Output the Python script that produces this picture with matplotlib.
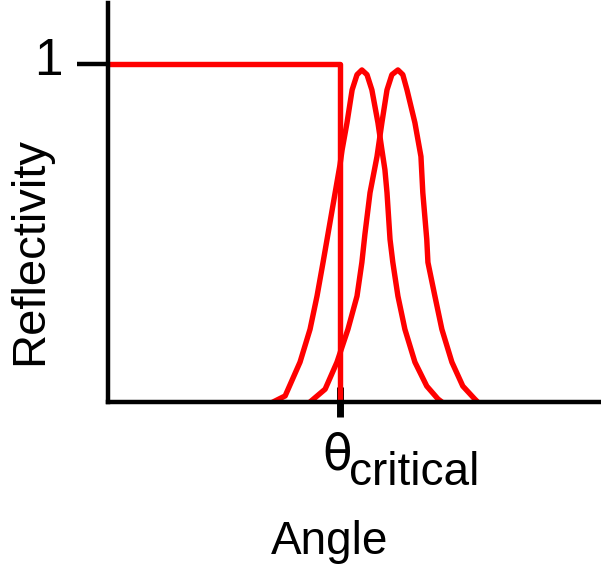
import matplotlib
matplotlib.use('Agg')
import matplotlib.pyplot as plt

plt.rcParams['font.family'] = ['Liberation Sans', 'DejaVu Sans']

# step reflectivity (total reflection up to the critical angle)
step_x = [0.0, 1.0, 1.0]
step_y = [1.0, 1.0, 0.0]

# first peak
peak1_x = [0.712, 0.764, 0.828, 0.871, 0.901, 0.927, 0.948, 0.979, 1.000, 1.009,
           1.030, 1.052, 1.073, 1.094, 1.116, 1.137, 1.163, 1.180, 1.193, 1.202,
           1.215, 1.227, 1.249, 1.279, 1.322, 1.373, 1.421, 1.438]
peak1_y = [0.0, 0.018, 0.118, 0.215, 0.313, 0.413, 0.496, 0.619, 0.702, 0.746,
           0.826, 0.923, 0.968, 0.982, 0.968, 0.923, 0.826, 0.746, 0.687, 0.619,
           0.481, 0.413, 0.313, 0.215, 0.118, 0.047, 0.009, 0.0]

# second peak
peak2_x = [0.871, 0.936, 0.987, 1.034, 1.073, 1.094, 1.107, 1.129, 1.159, 1.180,
           1.202, 1.223, 1.249, 1.270, 1.288, 1.322, 1.348, 1.356, 1.373, 1.378,
           1.408, 1.438, 1.481, 1.528, 1.579, 1.592]
peak2_y = [0.0, 0.038, 0.118, 0.215, 0.313, 0.413, 0.496, 0.619, 0.726, 0.826,
           0.923, 0.968, 0.982, 0.968, 0.923, 0.826, 0.726, 0.619, 0.481, 0.413,
           0.313, 0.215, 0.118, 0.047, 0.009, 0.0]

theta_c = 1.0

W, H = 601, 564
fig = plt.figure(figsize=(W / 100, H / 100), dpi=100)
ax = fig.add_axes([107.5 / W, (H - 402) / H, (600 - 107.5) / W, (402 - 3) / H])

red = '#ff0000'
for xs, ys in [(step_x, step_y), (peak1_x, peak1_y), (peak2_x, peak2_y)]:
    ax.plot(xs, ys, color=red, lw=3.9, solid_joinstyle='round')

ax.set_xlim(0, 2.118)
ax.set_ylim(0, 1.18)

for s in ['top', 'right']:
    ax.spines[s].set_visible(False)
for s in ['left', 'bottom']:
    ax.spines[s].set_linewidth(3.2)

ax.set_yticks([1])
ax.set_xticks([theta_c])
ax.tick_params(axis='y', direction='out', length=22, width=3.2, labelleft=False)
ax.tick_params(axis='x', direction='inout', length=21, width=5, labelbottom=False)

# labels placed in figure pixels
def ftext(px, py, s, **kw):
    fig.text(px / W, 1 - py / H, s, **kw)

ftext(63, 75, '1', fontsize=37, ha='right', va='baseline')
ftext(322, 470, '\u03b8', fontsize=35, ha='left', va='baseline', family='DejaVu Sans')
ftext(349, 485, 'critical', fontsize=33, ha='left', va='baseline')
ftext(330, 554, 'Angle', fontsize=33, ha='center', va='baseline')
ftext(30, 251, 'Reflectivity', fontsize=34, rotation=90, ha='center', va='center')

fig.savefig('out.png', dpi=100)
